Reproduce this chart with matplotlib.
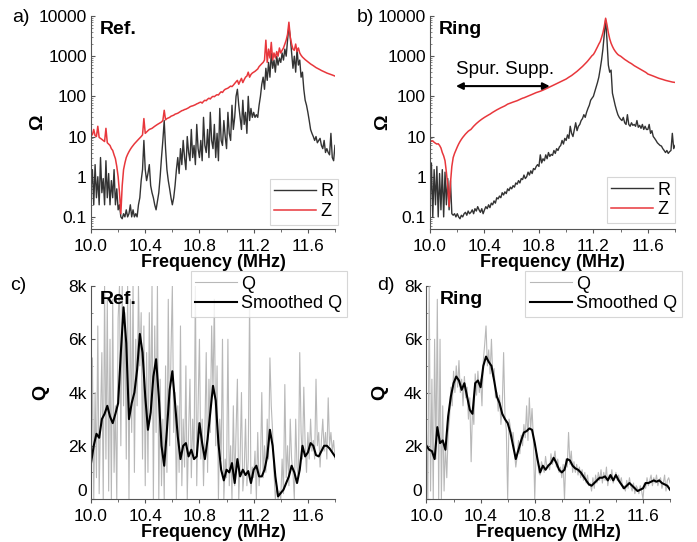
import numpy as np
import matplotlib
matplotlib.use("Agg")
import matplotlib.pyplot as plt
from matplotlib.ticker import MultipleLocator, FixedLocator, LogLocator, NullFormatter

plt.rcParams['font.family'] = ['Liberation Sans', 'DejaVu Sans']

# ---- data ----
freq = np.linspace(10.0, 11.8, 181)       # 0.01 MHz grid
freq_s = np.linspace(10.0, 11.8, 91)      # 0.02 MHz grid for the smoothed curves

# a) Ref. : R and Z (Ohm)
R_ref = [0.5, 1.5, 0.2, 2.0, 0.3, 1.0, 0.2, 3.0, 0.4, 0.9,
         0.2, 2.5, 0.3, 1.2, 0.2, 0.8, 0.3, 1.5, 0.2, 0.5,
         0.15, 0.2, 0.1, 0.09, 0.12, 0.1, 0.15, 0.1, 0.12, 0.2,
         0.1, 0.15, 0.1, 0.12, 0.1, 0.2, 0.3, 0.8, 1.5, 8.0,
         1.5, 0.8, 1.2, 2.0, 0.6, 0.4, 0.3, 0.2, 0.15, 0.25,
         0.4, 1.0, 3.0, 8.0, 25.0, 5.0, 1.5, 0.8, 0.5, 0.3,
         0.2, 0.3, 0.6, 1.5, 3.0, 1.2, 5.0, 2.0, 8.0, 3.0,
         1.5, 10.0, 4.0, 2.5, 15.0, 3.0, 6.0, 2.0, 20.0, 5.0,
         3.0, 8.0, 2.5, 30.0, 6.0, 4.0, 15.0, 3.0, 40.0, 8.0,
         5.0, 20.0, 3.0, 12.0, 2.5, 50.0, 8.0, 6.0, 25.0, 10.0,
         5.0, 40.0, 12.0, 8.0, 60.0, 15.0, 30.0, 100.0, 150.0, 60.0,
         30.0, 15.0, 80.0, 20.0, 40.0, 12.0, 100.0, 25.0, 50.0, 30.0,
         40.0, 30.0, 35.0, 30.0, 60.0, 100.0, 200.0, 300.0, 150.0, 500.0,
         250.0, 700.0, 300.0, 1200.0, 500.0, 800.0, 400.0, 1000.0, 600.0, 900.0,
         700.0, 1200.0, 800.0, 1500.0, 1000.0, 2500.0, 5500.0, 3000.0, 1200.0, 500.0,
         1000.0, 400.0, 1500.0, 600.0, 800.0, 300.0, 400.0, 150.0, 80.0, 60.0,
         40.0, 25.0, 15.0, 12.0, 10.0, 8.0, 10.0, 7.0, 8.0, 9.0,
         6.0, 5.0, 8.0, 4.0, 5.0, 4.0, 3.5, 12.0, 3.0, 2.5,
         6.0]
Z_ref = [12, 11, 15, 10.5, 10, 18, 9.5, 9, 8.5, 8,
         7.5, 16, 7, 6.5, 6, 5, 4.5, 3.5, 2.8, 1.8,
         1.0, 0.4, 0.12, 0.6, 1.5, 2.2, 3.0, 3.6, 4.2, 4.8,
         5.4, 6.0, 6.6, 7.2, 7.8, 8.5, 9.2, 10, 11, 28,
         12, 13, 14, 15, 15.5, 16, 17, 18, 19, 20,
         21, 22, 23, 25, 45, 26, 28, 29, 30, 32,
         33, 34, 36, 37, 38, 40, 42, 44, 45, 47,
         48, 50, 52, 55, 57, 58, 60, 62, 65, 67,
         70, 72, 68, 75, 80, 78, 85, 90, 86, 95,
         100, 98, 105, 110, 108, 120, 130, 125, 140, 150,
         155, 160, 170, 180, 175, 190, 210, 230, 250, 200,
         240, 280, 220, 260, 300, 320, 400, 300, 350, 380,
         400, 420, 450, 480, 550, 600, 650, 700, 800, 2500,
         700, 1500, 900, 2200, 800, 1200, 900, 1300, 1000, 1600,
         1200, 1400, 1600, 2000, 2500, 3500, 7000, 3000, 2000, 1500,
         1400, 2000, 1300, 1600, 1200, 1050, 950, 880, 820, 770,
         720, 680, 640, 610, 580, 550, 520, 500, 480, 460,
         440, 425, 410, 395, 380, 370, 360, 350, 340, 330,
         320]

# b) Ring : R and Z (Ohm)
R_ring = [0.15, 2.2, 0.1, 1.5, 0.2, 1.8, 0.1, 1.2, 0.15, 1.5,
          0.1, 1.3, 0.2, 0.9, 0.15, 0.8, 0.12, 0.11, 0.12, 0.1,
          0.12, 0.1, 0.09, 0.11, 0.1, 0.12, 0.13, 0.11, 0.14, 0.12,
          0.13, 0.15, 0.12, 0.16, 0.14, 0.18, 0.15, 0.13, 0.16, 0.12,
          0.15, 0.18, 0.16, 0.2, 0.17, 0.22, 0.2, 0.25, 0.22, 0.3,
          0.28, 0.33, 0.3, 0.4, 0.35, 0.42, 0.38, 0.5, 0.45, 0.55,
          0.5, 0.6, 0.55, 0.7, 0.65, 0.8, 0.7, 0.9, 0.85, 1.1,
          0.9, 1.0, 1.3, 1.1, 1.4, 1.2, 1.6, 1.5, 1.8, 2.0,
          1.8, 3.5, 2.2, 2.8, 2.5, 3.5, 2.8, 4.0, 3.2, 3.6,
          3.4, 4.5, 3.8, 5.0, 4.5, 5.5, 6.0, 8.0, 6.5, 9.0,
          8.0, 11.0, 9.0, 18.0, 12.0, 10.0, 15.0, 22.0, 14.0, 18.0,
          20.0, 25.0, 28.0, 35.0, 30.0, 40.0, 50.0, 60.0, 80.0, 90.0,
          100.0, 130.0, 170.0, 220.0, 300.0, 480.0, 800.0, 1500.0, 3500.0, 8000.0,
          2500.0, 600.0, 400.0, 450.0, 120.0, 85.0, 60.0, 45.0, 35.0, 30.0,
          27.0, 25.0, 30.0, 22.0, 20.0, 35.0, 20.0, 18.0, 22.0, 19.0,
          20.0, 18.0, 25.0, 17.0, 19.0, 16.0, 20.0, 15.0, 18.0, 15.0,
          15.0, 20.0, 12.0, 14.0, 10.0, 9.0, 8.0, 7.0, 6.5, 6.0,
          5.8, 5.0, 4.5, 4.0, 4.5, 3.8, 4.2, 4.5, 12.0, 5.0,
          6.0]
Z_ring = [8.0, 7.6, 7.8, 7.2, 6.8, 6.5, 6.6, 6.0, 5.2, 4.0,
          3.3, 2.5, 1.3, 0.6, 0.18, 0.7, 1.8, 3.0, 3.8, 4.6,
          5.5, 6.5, 7.5, 8.5, 9.5, 10.5, 11.5, 12.5, 13.5, 14.3,
          15, 16.5, 18, 19.5, 21, 22.5, 24, 25.5, 27, 28.5,
          30, 31.5, 33, 34.5, 36, 38, 40, 42, 44, 46,
          48, 50, 52, 54, 56, 58, 61, 64, 66, 68,
          70, 72, 74, 76, 78, 81, 84, 87, 90, 92,
          95, 98, 101, 104, 108, 112, 116, 120, 124, 127,
          130, 134, 138, 143, 148, 153, 158, 165, 172, 178,
          185, 192, 200, 207, 215, 222, 230, 240, 250, 260,
          270, 285, 300, 315, 330, 350, 370, 395, 420, 450,
          480, 515, 555, 600, 650, 705, 770, 850, 940, 1030,
          1100, 1250, 1450, 1700, 2000, 2300, 2900, 3800, 5500, 8800,
          6000, 3800, 2700, 2100, 1750, 1500, 1330, 1200, 1100, 1040,
          1000, 940, 880, 830, 790, 750, 710, 680, 650, 615,
          580, 555, 530, 505, 485, 465, 445, 425, 405, 385,
          360, 350, 340, 330, 320, 310, 300, 290, 282, 276,
          270, 263, 256, 250, 245, 240, 235, 230, 227, 224,
          222]

# c) Ref. : Q and smoothed Q
Q_ref = [500, 5300, 0, 4000, 800, 6500, 200, 3000, 5500, 0,
         8000, 1500, 7500, 300, 6000, 0, 7500, 1000, 3500, 0,
         6800, 8000, 2000, 8000, 3500, 7000, 1500, 8000, 0, 7500,
         2500, 8000, 1000, 6000, 3500, 8000, 5000, 7000, 1500, 6500,
         500, 5500, 1000, 7000, 3000, 8000, 0, 6500, 2500, 8000,
         0, 4500, 500, 3000, 0, 5000, 1000, 7500, 2000, 5500,
         8000, 2500, 4000, 0, 3500, 1000, 6500, 500, 3000, 1200,
         5000, 0, 2500, 4500, 800, 3000, 1500, 8000, 500, 3500,
         6000, 1500, 3000, 500, 2500, 5500, 1000, 4500, 2500, 6500,
         4000, 7500, 2000, 5000, 0, 3000, 1500, 6000, 0, 1500,
         800, 6000, 500, 2000, 0, 3500, 500, 2500, 4500, 0,
         1500, 4000, 300, 1000, 3000, 500, 1500, 7500, 200, 1200,
         800, 1800, 0, 2500, 500, 1200, 4000, 800, 2000, 1000,
         3000, 1500, 5300, 3500, 2500, 1000, 0, 500, 0, 300,
         0, 1500, 200, 4300, 800, 2000, 500, 3000, 1500, 1000,
         0, 3000, 1200, 800, 5500, 2500, 1500, 4200, 2000, 1000,
         2500, 1500, 3000, 1800, 2200, 1500, 4500, 2000, 2500, 1200,
         2200, 3000, 1800, 2500, 1500, 3800, 2000, 2500, 1800, 2200,
         1500]
Qs_ref = [1350, 2000, 2450, 2300, 3000, 3200, 3500, 3100, 2850, 3200,
          3600, 5500, 7200, 5850, 3000, 3600, 4000, 4850, 6200, 5500,
          3850, 2600, 3250, 4600, 5250, 3850, 2000, 1250, 2600, 4100,
          4800, 3600, 2350, 1500, 2000, 2100, 1600, 1850, 1500, 1600,
          2850, 2100, 1500, 2250, 3250, 4250, 3700, 2100, 1100, 700,
          1100, 1000, 1350, 600, 1500, 850, 1100, 900, 1050, 600,
          1100, 1250, 850, 850, 1100, 1600, 2600, 2000, 850, 100,
          225, 350, 600, 850, 1250, 1000, 600, 1100, 2000, 1600,
          1750, 2100, 2000, 1650, 1600, 1800, 2000, 2000, 1900, 1750,
          1600]

# d) Ring : Q and smoothed Q
Q_ring = [2500, 0, 8000, 300, 4500, 0, 6000, 1500, 7500, 0,
          6000, 0, 3500, 300, 2000, 800, 2500, 3000, 4200, 3500,
          4800, 4000, 5000, 4200, 5200, 4000, 4500, 3500, 4600, 3800,
          4200, 3000, 3800, 1400, 3400, 2800, 4700, 3900, 4800, 4000,
          4500, 3500, 5200, 5800, 6500, 5000, 5600, 4700, 6000, 4600,
          4900, 3800, 4000, 3300, 3900, 2800, 3500, 5500, 3100, 2600,
          0, 3000, 2700, 2200, 2500, 1800, 1200, 1600, 2200, 1700,
          2400, 2000, 2800, 2300, 3500, 2200, 3800, 2600, 3400, 2300,
          0, 1800, 1600, 1000, 900, 1400, 1200, 1000, 1600, 1200,
          1300, 1100, 1700, 1300, 1500, 1800, 1200, 1500, 1000, 1200,
          800, 1300, 0, 1500, 1200, 2500, 1300, 1800, 1000, 1400,
          1000, 1300, 900, 1200, 800, 1100, 700, 1000, 600, 900,
          500, 600, 300, 800, 400, 900, 600, 1000, 700, 1100,
          600, 1000, 700, 1200, 500, 900, 700, 1100, 600, 800,
          1000, 700, 900, 600, 800, 400, 500, 300, 700, 400,
          800, 500, 300, 600, 200, 500, 400, 200, 500, 300,
          0, 600, 400, 800, 500, 700, 900, 500, 800, 600,
          900, 500, 700, 800, 400, 600, 900, 300, 700, 800,
          600]
Qs_ring = [2000, 1850, 1800, 1500, 2700, 2100, 2200, 1850, 3100, 3850,
           4350, 4600, 4450, 4100, 4350, 3850, 3350, 3200, 4350, 4450,
           4200, 5000, 5350, 5150, 5000, 4450, 3850, 3600, 3200, 3000,
           2850, 2500, 2000, 1500, 1850, 2200, 2500, 2550, 2650, 2600,
           2100, 1500, 1000, 1250, 1100, 1250, 1350, 1550, 1350, 1100,
           1000, 1100, 1500, 1450, 1250, 1150, 1100, 1000, 850, 700,
           550, 500, 600, 700, 800, 800, 850, 700, 900, 700,
           900, 700, 550, 400, 500, 600, 500, 400, 300, 350,
           400, 600, 600, 650, 700, 650, 700, 600, 550, 500,
           350]

RED = '#e8373c'
DARK = '#333333'
FS = 12.5   # tick / label text size

fig = plt.figure(figsize=(6.97, 5.42), dpi=100)
ax_a = fig.add_axes([0.1306, 0.5775, 0.350, 0.393])
ax_b = fig.add_axes([0.6170, 0.5775, 0.3515, 0.393])
ax_c = fig.add_axes([0.1306, 0.0793, 0.350, 0.393])
ax_d = fig.add_axes([0.6119, 0.0793, 0.3494, 0.393])


def style_axes(ax):
    for s in ['top', 'right']:
        ax.spines[s].set_visible(False)
    for s in ['left', 'bottom']:
        ax.spines[s].set_color('#555555')
    ax.set_xlim(10.0, 11.8)
    ax.xaxis.set_major_locator(FixedLocator([10.0, 10.4, 10.8, 11.2, 11.6]))
    ax.xaxis.set_minor_locator(MultipleLocator(0.2))
    ax.set_xticklabels(['10.0', '10.4', '10.8', '11.2', '11.6'])
    ax.tick_params(axis='x', which='major', direction='out', length=3, labelsize=FS, pad=4, color='#555555')
    ax.tick_params(axis='x', which='minor', direction='out', length=2, color='#555555')
    ax.tick_params(axis='y', which='major', direction='in', length=3, labelsize=FS, pad=3, color='#555555')
    ax.tick_params(axis='y', which='minor', direction='in', length=1.5, color='#777777')
    ax.set_xlabel('Frequency (MHz)', fontsize=13, fontweight='bold')
    ax.xaxis.set_label_coords(0.5, -0.118)


def legend_box(ax, anchor):
    leg = ax.legend(loc='upper right', bbox_to_anchor=anchor, bbox_transform=fig.transFigure,
                    fontsize=13, frameon=True, fancybox=False, handlelength=2.3,
                    handletextpad=0.25, borderpad=0.25, labelspacing=0.15, borderaxespad=0)
    leg.get_frame().set_edgecolor('#cccccc')
    leg.get_frame().set_linewidth(0.8)
    return leg


# ---- a) Ref. impedance ----
ax_a.plot(freq, R_ref, color=DARK, lw=1.0, label='R')
ax_a.plot(freq, Z_ref, color=RED, lw=1.1, label='Z')
ax_a.set_yscale('log')
ax_a.set_ylim(0.05, 10000)
ax_a.yaxis.set_major_locator(FixedLocator([0.1, 1, 10, 100, 1000, 10000]))
ax_a.set_yticklabels(['0.1', '1', '10', '100', '1000', '10000'])
ax_a.yaxis.set_minor_locator(LogLocator(base=10, subs=np.arange(2, 10)))
ax_a.yaxis.set_minor_formatter(NullFormatter())
style_axes(ax_a)
ax_a.set_ylabel('Ω', fontsize=14, fontweight='bold')
ax_a.yaxis.set_label_coords(-0.185, 0.5)
ax_a.text(0.035, 0.975, 'Ref.', transform=ax_a.transAxes, fontsize=14, fontweight='bold', va='top')
legend_box(ax_a, (0.485, 0.670))

# ---- b) Ring impedance ----
ax_b.plot(freq, R_ring, color=DARK, lw=1.0, label='R')
ax_b.plot(freq, Z_ring, color=RED, lw=1.1, label='Z')
ax_b.set_yscale('log')
ax_b.set_ylim(0.05, 10000)
ax_b.yaxis.set_major_locator(FixedLocator([0.1, 1, 10, 100, 1000, 10000]))
ax_b.set_yticklabels(['0.1', '1', '10', '100', '1000', '10000'])
ax_b.yaxis.set_minor_locator(LogLocator(base=10, subs=np.arange(2, 10)))
ax_b.yaxis.set_minor_formatter(NullFormatter())
style_axes(ax_b)
ax_b.set_ylabel('Ω', fontsize=14, fontweight='bold')
ax_b.yaxis.set_label_coords(-0.16, 0.5)
ax_b.text(0.035, 0.975, 'Ring', transform=ax_b.transAxes, fontsize=14, fontweight='bold', va='top')
ax_b.annotate('', xy=(10.17, 180), xytext=(10.90, 180),
              arrowprops=dict(arrowstyle='<|-|>', color='black', lw=1.5, mutation_scale=10))
ax_b.text(10.55, 460, 'Spur. Supp.', ha='center', va='center', fontsize=13.5)
legend_box(ax_b, (0.968, 0.673))

# ---- c) Ref. Q ----
ax_c.plot(freq, Q_ref, color='#b8b8b8', lw=0.8, label='Q')
ax_c.plot(freq_s, Qs_ref, color='black', lw=1.5, label='Smoothed Q')
ax_c.set_ylim(0, 8000)
ax_c.yaxis.set_major_locator(FixedLocator([0, 2000, 4000, 6000, 8000]))
ax_c.set_yticklabels(['0', '2k', '4k', '6k', '8k'])
ax_c.yaxis.set_minor_locator(MultipleLocator(1000))
style_axes(ax_c)
ax_c.set_ylabel('Q', fontsize=14, fontweight='bold')
ax_c.yaxis.set_label_coords(-0.17, 0.5)
ax_c.text(0.035, 0.975, 'Ref.', transform=ax_c.transAxes, fontsize=14, fontweight='bold', va='top')
legend_box(ax_c, (0.498, 0.500))

# ---- d) Ring Q ----
ax_d.plot(freq, Q_ring, color='#b8b8b8', lw=0.8, label='Q')
ax_d.plot(freq_s, Qs_ring, color='black', lw=1.5, label='Smoothed Q')
ax_d.set_ylim(0, 8000)
ax_d.yaxis.set_major_locator(FixedLocator([0, 2000, 4000, 6000, 8000]))
ax_d.set_yticklabels(['0', '2k', '4k', '6k', '8k'])
ax_d.yaxis.set_minor_locator(MultipleLocator(1000))
style_axes(ax_d)
ax_d.set_ylabel('Q', fontsize=14, fontweight='bold')
ax_d.yaxis.set_label_coords(-0.157, 0.5)
ax_d.text(0.055, 0.975, 'Ring', transform=ax_d.transAxes, fontsize=14, fontweight='bold', va='top')
legend_box(ax_d, (0.978, 0.500))

# the "0" on the Q axes sits just above the corner, clear of "10.0"
for ax in (ax_c, ax_d):
    ax.get_yticklabels()[0].set_va('bottom')

# panel letters
fig.text(0.018, 0.968, 'a)', fontsize=14, va='center')
fig.text(0.512, 0.968, 'b)', fontsize=14, va='center')
fig.text(0.014, 0.474, 'c)', fontsize=14, va='center')
fig.text(0.541, 0.474, 'd)', fontsize=14, va='center')

fig.savefig('out.png', dpi=100)
